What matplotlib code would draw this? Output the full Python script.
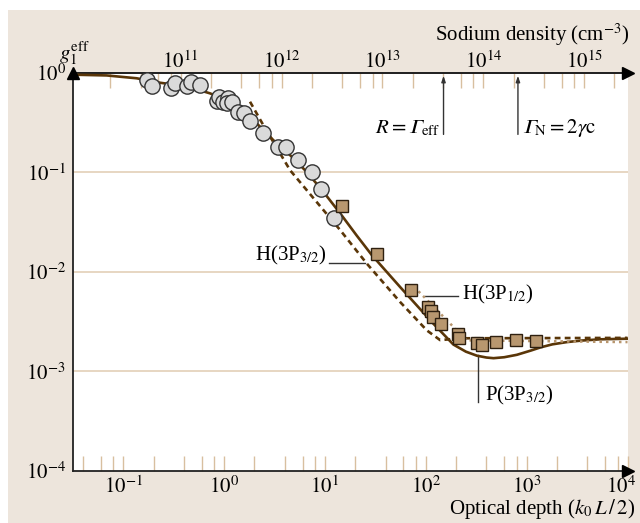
import matplotlib
matplotlib.use('Agg')
import matplotlib.pyplot as plt
from matplotlib.patches import Rectangle

plt.rcParams['font.family'] = ['Liberation Serif', 'DejaVu Serif']
plt.rcParams['mathtext.fontset'] = 'stix'

# ---------------- data ----------------
circ_od = [0.171, 0.192, 0.301, 0.327, 0.430, 0.471, 0.578, 0.846, 0.882, 0.977,
           1.10, 1.07, 1.19, 1.39, 1.56, 1.81, 2.42, 3.46, 4.12, 5.38, 7.41, 9.17, 12.4]
circ_g = [0.85, 0.74, 0.706, 0.793, 0.748, 0.817, 0.766, 0.522, 0.573, 0.510,
          0.560, 0.499, 0.510, 0.408, 0.398, 0.331, 0.250, 0.178, 0.178, 0.133, 0.101, 0.0673, 0.0344]

sq_od = [14.7, 33.2, 71.3, 105.6, 113.7, 119.2, 140.6, 207, 215, 321, 357, 499, 780, 1245]
sq_g = [0.0457, 0.0150, 0.00656, 0.00446, 0.00400, 0.00352, 0.00301, 0.00237, 0.00217,
        0.00192, 0.00182, 0.00195, 0.00204, 0.00200]

p32_od = [0.0316, 0.0686, 0.136, 0.232, 0.340, 0.496, 0.726, 1.06, 1.55, 2.11, 3.08, 4.52,
          6.61, 9.66, 14.2, 20.7, 29.2, 55.7, 119, 188, 250, 321, 400, 470, 600, 801,
          1100, 1365, 1800, 2510, 3500, 5370, 10000]
p32_g = [0.962, 0.945, 0.885, 0.798, 0.757, 0.701, 0.624, 0.535, 0.424, 0.311, 0.211, 0.149,
         0.101, 0.0637, 0.0386, 0.0231, 0.0147, 0.00702, 0.00300, 0.00185, 0.00157, 0.00143,
         0.00137, 0.00135, 0.00138, 0.00146, 0.00161, 0.00173, 0.00186, 0.00196, 0.00203,
         0.00209, 0.00212]

h32_od = [1.81, 2.45, 4.52, 14.2, 26.0, 55.7, 102.5, 139, 219, 10000]
h32_g = [0.514, 0.299, 0.105, 0.0262, 0.0121, 0.00496, 0.00257, 0.00205, 0.00214, 0.00216]

h12_od = [84.7, 162, 211, 256, 10000]
h12_g = [0.00636, 0.00325, 0.00247, 0.00204, 0.00196]

bottom_ticks = [1e-1, 1e0, 1e1, 1e2, 1e3, 1e4]
bottom_labels = [r'$10^{-1}$', r'$10^{0}$', r'$10^{1}$', r'$10^{2}$', r'$10^{3}$', r'$10^{4}$']
y_ticks = [1e-4, 1e-3, 1e-2, 1e-1, 1e0]
y_labels = [r'$10^{-4}$', r'$10^{-3}$', r'$10^{-2}$', r'$10^{-1}$', r'$10^{0}$']
top_ticks = [1e11, 1e12, 1e13, 1e14, 1e15]
top_labels = [r'$10^{11}$', r'$10^{12}$', r'$10^{13}$', r'$10^{14}$', r'$10^{15}$']
log_density_offset = 11.43   # log10(density / optical depth)

# ---------------- style ----------------
BEIGE = '#ede5dc'
TAN = '#e3cfb8'
TICK = '#d8bf9f'
BROWN = '#5a3608'
DOT = '#b8966e'
FS = 15

fig = plt.figure(figsize=(6.4, 5.23), dpi=100)
fig.add_artist(Rectangle((8 / 640, 0), 1, 1 - 10 / 523, transform=fig.transFigure,
                         facecolor=BEIGE, edgecolor='none', zorder=-5))
ax = fig.add_axes([72.7 / 640, 1 - 470.5 / 523, (627.5 - 72.7) / 640, (470.5 - 73) / 523])
ax.set_facecolor('white')
ax.set_xscale('log')
ax.set_yscale('log')
ax.set_xlim(0.0316, 1e4)
ax.set_ylim(1e-4, 1.0)

ax.spines['right'].set_visible(False)
for s in ['left', 'bottom', 'top']:
    ax.spines[s].set_color('#222222')
    ax.spines[s].set_linewidth(1.3)

# grid
for yv in y_ticks[1:-1]:
    ax.axhline(yv, color=TAN, lw=1.2, zorder=0.5)

# bottom ticks (last label drawn separately, nudged left so it stays inside)
minor_b = [m * 10.0 ** e for e in range(-2, 4) for m in (2, 4, 6, 8)]
minor_b = [v for v in minor_b if 0.0316 < v < 1e4]
ax.set_xticks(bottom_ticks, bottom_labels[:-1] + [''])
ax.set_xticks(minor_b, minor=True)
ax.xaxis.set_minor_formatter(matplotlib.ticker.NullFormatter())
ax.tick_params(axis='x', which='both', direction='in', length=11, width=1.0,
               color=TICK, labelsize=FS, pad=4, top=False)
ax.annotate(bottom_labels[-1], xy=(bottom_ticks[-1], 0), xycoords=('data', 'axes fraction'),
            xytext=(-5, -4), textcoords='offset points', ha='center', va='top', fontsize=FS)
ax.set_yticks(y_ticks, y_labels)
ax.yaxis.set_minor_locator(matplotlib.ticker.NullLocator())
ax.tick_params(axis='y', which='both', length=0, labelsize=FS, pad=5)

# top axis (sodium density)
top = ax.secondary_xaxis('top', functions=(lambda x: x * 10 ** log_density_offset,
                                            lambda n: n / 10 ** log_density_offset))
top.set_xticks(top_ticks, top_labels)
minor_t = [m * 10.0 ** e for e in range(10, 16) for m in (2, 4, 6, 8)]
top.set_xticks(minor_t, minor=True)
top.xaxis.set_minor_formatter(matplotlib.ticker.NullFormatter())
top.tick_params(axis='x', which='both', direction='in', length=11, width=1.0,
                color=TICK, labelsize=FS, pad=0)
top.spines['top'].set_color('#222222')
top.spines['top'].set_linewidth(1.3)

# axis arrows
ax.plot([0], [1], marker='^', ms=9, color='black', transform=ax.transAxes, clip_on=False, zorder=10)
ax.plot([1], [0], marker='>', ms=9, color='black', transform=ax.transAxes, clip_on=False, zorder=10)
ax.plot([1], [1], marker='>', ms=9, color='black', transform=ax.transAxes, clip_on=False, zorder=10)

# curves
ax.plot(p32_od, p32_g, color=BROWN, lw=1.9, zorder=3, solid_joinstyle='round')
ax.plot(h32_od, h32_g, color=BROWN, lw=1.9, ls=(0, (2.2, 1.6)), zorder=3)
ax.plot(h12_od, h12_g, color=DOT, lw=1.8, ls=(0, (1, 1.6)), zorder=3)

# markers
ax.plot(circ_od, circ_g, 'o', ms=11, mfc='#dadada', mec='#333333', mew=1.0, zorder=5, clip_on=False)
ax.plot(sq_od, sq_g, 's', ms=8.5, mfc='#b8976f', mec='#2e2010', mew=1.0, zorder=5)

# annotations
ax.annotate('', xy=(150, 1.0), xytext=(150, 0.226),
            arrowprops=dict(arrowstyle='-|>,head_length=0.35,head_width=0.12', color='#333333', lw=1.0))
ax.annotate('', xy=(820, 1.0), xytext=(820, 0.226),
            arrowprops=dict(arrowstyle='-|>,head_length=0.35,head_width=0.12', color='#333333', lw=1.0))
ax.text(139, 0.279, '$R=\U0001D6E4_{\\mathrm{eff}}$', ha='right', va='center', fontsize=FS)
ax.text(900, 0.279, '$\U0001D6E4_{\\mathrm{N}}=2\\gamma\\mathrm{c}$', ha='left', va='center', fontsize=FS)

ax.text(10.4, 0.0147, r'H(3P$_{3/2}$)', ha='right', va='center', fontsize=FS)
ax.plot([11.1, 25.0], [0.01227, 0.01227], color='#333333', lw=1.0)
ax.text(230, 0.00593, r'H(3P$_{1/2}$)', ha='left', va='center', fontsize=FS)
ax.plot([98.6, 211], [0.00566, 0.00566], color='#333333', lw=1.0)
ax.text(388, 0.00057, r'P(3P$_{3/2}$)', ha='left', va='center', fontsize=FS)
ax.plot([326, 326], [0.00144, 0.000488], color='#333333', lw=1.0)

# axis titles
fig.text(74 / 640, 1 - 53 / 523, r'$g_1^{\mathrm{eff}}$', ha='center', va='center', fontsize=FS)
fig.text(630 / 640, 1 - 35 / 523, r'Sodium density (cm$^{-3}$)', ha='right', va='center', fontsize=FS)
fig.text(635 / 640, 1 - 509 / 523, r'Optical depth ($k_0\,L\,/\,2$)', ha='right', va='center', fontsize=FS)

fig.savefig('out.png', dpi=100)
